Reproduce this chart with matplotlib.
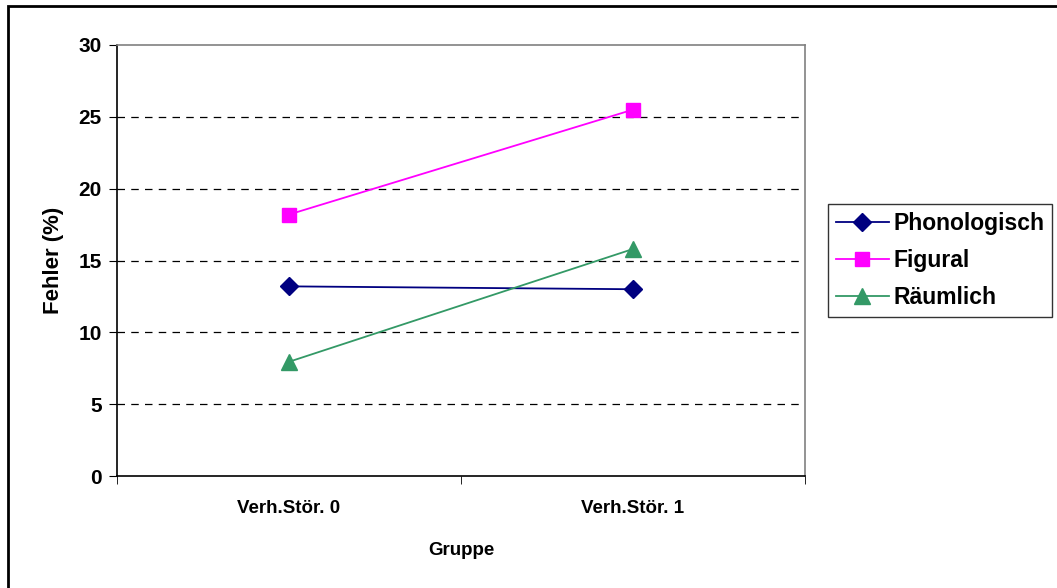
import matplotlib
matplotlib.use("Agg")
import matplotlib.pyplot as plt
from matplotlib.patches import Rectangle

plt.rcParams['font.family'] = ['Liberation Sans', 'DejaVu Sans']
plt.rcParams['font.weight'] = 'bold'

gruppen = ["Verh.Stör. 0", "Verh.Stör. 1"]
phonologisch = [13.2, 13.0]
figural = [18.2, 25.5]
raeumlich = [7.95, 15.8]
yticks = [0, 5, 10, 15, 20, 25, 30]

fig = plt.figure(figsize=(10.57, 5.88), dpi=100)
ax = fig.add_axes([117/1057, 1-476/588, (805-117)/1057, (476-45)/588])

x = list(range(len(gruppen)))
ax.plot(x, phonologisch, color='#000080', marker='D', markersize=9, lw=1.3, label='Phonologisch')
ax.plot(x, figural, color='#FF00FF', marker='s', markersize=9.5, lw=1.3, label='Figural')
ax.plot(x, raeumlich, color='#339966', marker='^', markersize=11, lw=1.3, label='Räumlich')

ax.set_xlim(-0.5, 1.5)
ax.set_ylim(0, 30)
ax.set_yticks(yticks)
ax.set_xticks(x)
ax.set_xticklabels(gruppen, fontsize=13.5, fontweight='bold')
ax.set_xticks([-0.5, 0.5, 1.5], minor=True)
ax.tick_params(axis='x', which='major', length=0, pad=17)
ax.tick_params(axis='x', which='minor', length=6, direction='out')
ax.tick_params(axis='y', length=6, direction='out', labelsize=15, pad=5)
for t in yticks[1:-1]:
    ax.axhline(t, color='black', lw=0.9, ls=(0, (6, 5)), zorder=0)

for s in ['top', 'right']:
    ax.spines[s].set_color('#808080')
    ax.spines[s].set_linewidth(1.2)
for s in ['left', 'bottom']:
    ax.spines[s].set_color('black')
    ax.spines[s].set_linewidth(1.2)

ax.set_xlabel('Gruppe', fontsize=13.5, fontweight='bold', labelpad=18)
ax.set_ylabel('Fehler (%)', fontsize=16, fontweight='bold', labelpad=10)

leg = fig.legend(loc='upper left', bbox_to_anchor=(828/1057, 1-204/588), borderaxespad=0,
                 fontsize=16.5, frameon=True, fancybox=False, edgecolor='black',
                 handlelength=2.3, borderpad=0.35, labelspacing=0.6, handletextpad=0.2)
leg.get_frame().set_linewidth(1.0)

fig.patches.append(Rectangle((8/1057, -0.1), 1.2, 1-6/588+0.1, transform=fig.transFigure,
                             fill=False, edgecolor='black', lw=2))

fig.savefig('out.png', dpi=100)
